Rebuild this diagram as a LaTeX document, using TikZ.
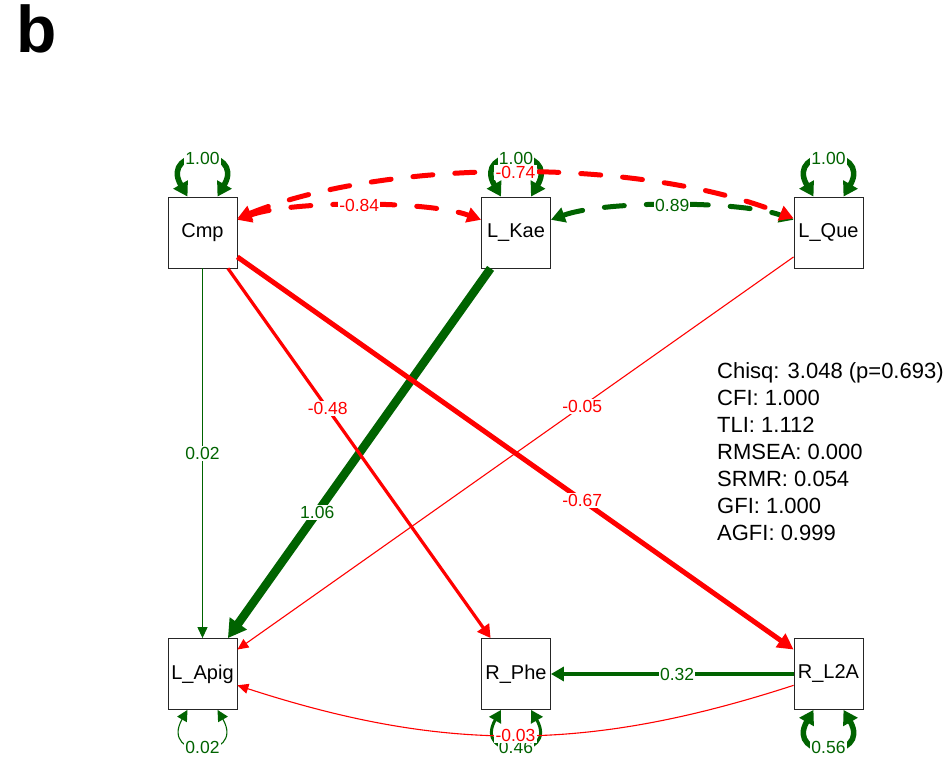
\documentclass[tikz,border=0pt]{standalone}
\usepackage{fontspec}
\setmainfont{Liberation Sans}
\usetikzlibrary{arrows.meta,calc}
\definecolor{PosClr}{rgb}{0,0.39,0}
\definecolor{NegClr}{rgb}{1,0,0}

\begin{document}
\begin{tikzpicture}[x=1pt,y=1pt,
  var/.style={draw=black!85,line width=0.8pt,minimum width=69pt,minimum height=71pt,
    inner sep=0pt,font=\fontsize{20}{24}\selectfont},
  wt/.style={fill=white,inner sep=1.2pt,font=\fontsize{17.5}{20}\selectfont},
  pth1/.style={line width=1.1pt,-{Triangle[length=11pt,width=10pt]}},
  pth3/.style={line width=3.2pt,-{Triangle[length=13pt,width=14pt]}},
  pth5/.style={line width=5pt,-{Triangle[length=16pt,width=16pt]}},
  pth8/.style={line width=8.5pt,-{Triangle[length=18pt,width=20pt]}},
  lp1/.style={line width=1.1pt,{Triangle[length=11pt,width=11pt]}-{Triangle[length=11pt,width=11pt]}},
  lp3/.style={line width=3pt,{Triangle[length=12pt,width=13pt]}-{Triangle[length=12pt,width=13pt]}},
  lp5/.style={line width=5.5pt,{Triangle[length=14pt,width=16pt]}-{Triangle[length=14pt,width=16pt]}},
  cv5/.style={line width=5pt,dash pattern=on 20pt off 22pt,line cap=round,
    {Triangle[length=14pt,width=15pt]}-{Triangle[length=14pt,width=15pt]}}]
\useasboundingbox (0,0) rectangle (951,771);

\node[anchor=base west,inner sep=0pt,font=\fontsize{66}{70}\selectfont\bfseries] (panel) at (16,718) {b};

% observed variables
\node[var] (cmp) at (202.5,538.5) {Cmp};
\node[var] (lkae) at (516,538.5) {L\_Kae};
\node[var] (lque) at (828.5,538.5) {L\_Que};
\node[var] (lapig) at (202.5,97) {L\_Apig};
\node[var] (rphe) at (516,97) {R\_Phe};
\node[var] (rl2a) at (828.5,97) {R\_L2A};

% variances
\draw[PosClr,lp5] ([xshift=-15pt]cmp.north) .. controls +(120:58) and +(60:58) .. node[wt]{1.00} ([xshift=15pt]cmp.north);
\draw[PosClr,lp5] ([xshift=-15pt]lkae.north) .. controls +(120:58) and +(60:58) .. node[wt]{1.00} ([xshift=15pt]lkae.north);
\draw[PosClr,lp5] ([xshift=-15pt]lque.north) .. controls +(120:58) and +(60:58) .. node[wt]{1.00} ([xshift=15pt]lque.north);
\draw[PosClr,lp1] ([xshift=-15pt]lapig.south) .. controls +(-120:58) and +(-60:58) .. node[wt]{0.02} ([xshift=15pt]lapig.south);
\draw[PosClr,lp3] ([xshift=-15pt]rphe.south) .. controls +(-120:58) and +(-60:58) .. node[wt]{0.46} ([xshift=15pt]rphe.south);
\draw[PosClr,lp5] ([xshift=-15pt]rl2a.south) .. controls +(-120:58) and +(-60:58) .. node[wt]{0.56} ([xshift=15pt]rl2a.south);

% covariances
\draw[PosClr,cv5] (lkae) to[out=20,in=160,looseness=0.6] node[wt]{0.89} (lque);
\draw[NegClr,cv5] (cmp) to[out=20,in=160,looseness=0.6] node[wt]{-0.84} (lkae);
\draw[NegClr,cv5] (cmp) to[out=22,in=158,looseness=0.75] node[wt]{-0.74} (lque);

% regressions
\draw[PosClr,pth1] (cmp) -- node[wt,pos=0.5]{0.02} (lapig);
\draw[PosClr,pth8] (lkae) -- node[wt,pos=0.66]{1.06} (lapig);
\draw[NegClr,pth3] (cmp) -- node[wt,pos=0.38]{-0.48} (rphe);
\draw[NegClr,pth5] (cmp) -- node[wt,pos=0.62]{-0.67} (rl2a);
\draw[NegClr,pth1] (lque) -- node[wt,pos=0.38]{-0.05} (lapig);
\draw[PosClr,pth3] (rl2a) -- node[wt,pos=0.48]{0.32} (rphe);
\draw[NegClr,pth1] (rl2a) to[bend left=18] node[wt,pos=0.5]{-0.03} (lapig);

% fit measures
\node[anchor=north west,inner sep=0pt,align=left,font=\fontsize{22}{27}\selectfont] (fit) at (717,409)
  {Chisq: 3.048 (p=0.693)\\CFI: 1.000\\TLI: 1.112\\RMSEA: 0.000\\SRMR: 0.054\\GFI: 1.000\\AGFI: 0.999};
\end{tikzpicture}
\end{document}
